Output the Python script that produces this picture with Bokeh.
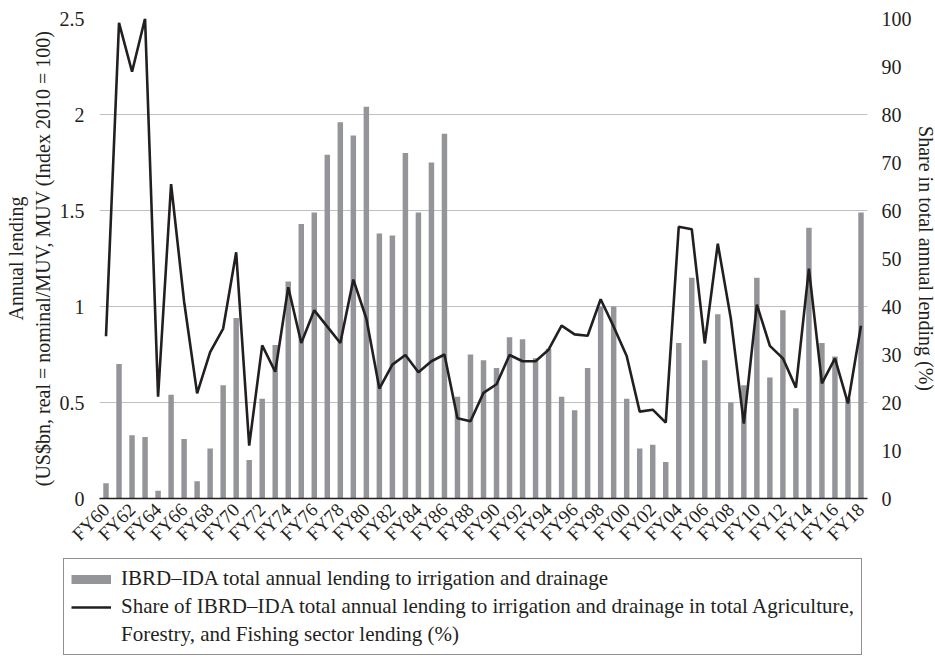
import math
from bokeh.plotting import figure
from bokeh.layouts import column
from bokeh.models import Range1d, LinearAxis, FixedTicker, Legend, LegendItem, ColumnDataSource
from bokeh.embed import file_html
from bokeh.resources import INLINE

years = ["FY60", "FY61", "FY62", "FY63", "FY64", "FY65", "FY66", "FY67", "FY68", "FY69",
         "FY70", "FY71", "FY72", "FY73", "FY74", "FY75", "FY76", "FY77", "FY78", "FY79",
         "FY80", "FY81", "FY82", "FY83", "FY84", "FY85", "FY86", "FY87", "FY88", "FY89",
         "FY90", "FY91", "FY92", "FY93", "FY94", "FY95", "FY96", "FY97", "FY98", "FY99",
         "FY00", "FY01", "FY02", "FY03", "FY04", "FY05", "FY06", "FY07", "FY08", "FY09",
         "FY10", "FY11", "FY12", "FY13", "FY14", "FY15", "FY16", "FY17", "FY18"]

lending = [0.08, 0.70, 0.33, 0.32, 0.04, 0.54, 0.31, 0.09, 0.26, 0.59,
           0.94, 0.20, 0.52, 0.80, 1.13, 1.43, 1.49, 1.79, 1.96, 1.89,
           2.04, 1.38, 1.37, 1.80, 1.49, 1.75, 1.90, 0.53, 0.75, 0.72,
           0.68, 0.84, 0.83, 0.73, 0.78, 0.53, 0.46, 0.68, 1.00, 1.00,
           0.52, 0.26, 0.28, 0.19, 0.81, 1.15, 0.72, 0.96, 0.50, 0.59,
           1.15, 0.63, 0.98, 0.47, 1.41, 0.81, 0.74, 0.52, 1.49]

share = [33.8, 99.1, 88.9, 100.0, 21.2, 65.5, 41.0, 21.9, 30.5, 35.4,
         51.3, 11.0, 31.9, 26.4, 44.0, 32.4, 39.2, 35.8, 32.4, 45.6,
         37.5, 22.9, 27.9, 29.9, 26.3, 28.6, 30.0, 16.7, 16.1, 22.0,
         23.8, 29.9, 28.6, 28.6, 31.0, 36.0, 34.2, 33.9, 41.5, 35.8,
         29.7, 18.1, 18.5, 15.8, 56.6, 56.1, 32.3, 53.1, 37.5, 15.6,
         40.4, 31.8, 29.2, 23.1, 47.9, 24.0, 29.2, 19.8, 36.0]

left_ticks = [0, 0.5, 1, 1.5, 2, 2.5]
right_ticks = [0, 10, 20, 30, 40, 50, 60, 70, 80, 90, 100]

legend_bar = "IBRD–IDA total annual lending to irrigation and drainage"
legend_line_1 = "Share of IBRD–IDA total annual lending to irrigation and drainage in total Agriculture,"
legend_line_2 = "Forestry, and Fishing sector lending (%)"

FONT = "Liberation Serif"
TXT = "#231f20"
BAR = "#939598"

xs = list(range(len(years)))
src = ColumnDataSource(dict(x=xs, year=years, lending=lending, share=share))

p = figure(frame_width=768, frame_height=480, output_backend="svg", toolbar_location=None,
           x_range=Range1d(-0.5, len(years) - 0.5), y_range=Range1d(0, 2.5),
           min_border_left=99, min_border_right=68, min_border_top=18, min_border_bottom=57)
p.frame_align = False
p.outline_line_color = None
p.background_fill_color = "white"
p.border_fill_color = "white"

p.extra_y_ranges = {"share": Range1d(0, 100)}

bars = p.vbar(x="x", top="lending", width=0.42, source=src, fill_color=BAR, line_color=None)
line = p.line(x="x", y="share", source=src, y_range_name="share", line_color=TXT, line_width=2.6)

# x axis
xa = p.xaxis[0]
xa.ticker = FixedTicker(ticks=xs[::2])
xa.major_label_overrides = {i: years[i] for i in xs[::2]}
xa.major_label_orientation = math.pi / 4
xa.major_tick_line_color = None
xa.minor_tick_line_color = None
xa.axis_line_color = TXT
xa.axis_line_width = 1.5
xa.major_label_text_font = FONT
xa.major_label_text_font_size = "19px"
xa.major_label_text_color = TXT
xa.major_label_standoff = 2

# left axis
ya = p.yaxis[0]
ya.ticker = FixedTicker(ticks=left_ticks)
ya.axis_line_color = None
ya.major_tick_line_color = None
ya.minor_tick_line_color = None
ya.major_label_text_font = FONT
ya.major_label_text_font_size = "20px"
ya.major_label_text_color = TXT
ya.major_label_standoff = 9
ya.axis_label = "Annual lending\n(US$bn, real = nominal/MUV, MUV (Index 2010 = 100)"
ya.axis_label_text_font = FONT
ya.axis_label_text_font_style = "normal"
ya.axis_label_text_font_size = "20px"
ya.axis_label_text_color = TXT
ya.axis_label_standoff = 3

# right axis
ra = LinearAxis(y_range_name="share", ticker=FixedTicker(ticks=right_ticks))
ra.axis_line_color = None
ra.major_tick_line_color = None
ra.minor_tick_line_color = None
ra.major_label_text_font = FONT
ra.major_label_text_font_size = "20px"
ra.major_label_text_color = TXT
ra.major_label_standoff = 8
ra.axis_label = "Share in total annual lending (%)"
ra.axis_label_text_font = FONT
ra.axis_label_text_font_style = "normal"
ra.axis_label_text_font_size = "20px"
ra.axis_label_text_color = TXT
ra.axis_label_standoff = 0
p.add_layout(ra, "right")

p.xgrid.grid_line_color = None
p.ygrid.ticker = FixedTicker(ticks=left_ticks)
p.ygrid.grid_line_color = "#c0c0c0"
p.ygrid.grid_line_width = 1.2

# legend panel (separate blank figure below the chart)
p2 = figure(width=935, height=101, output_backend="svg", toolbar_location=None,
            x_range=Range1d(0, 1), y_range=Range1d(0, 1),
            x_axis_location=None, y_axis_location=None,
            min_border_left=0, min_border_right=0, min_border_top=0, min_border_bottom=0)
p2.frame_align = False
p2.outline_line_color = None
p2.grid.grid_line_color = None
nan = float("nan")
lg_bar = p2.line(x=[nan], y=[nan], line_color=BAR, line_width=9)
lg_line = p2.line(x=[nan], y=[nan], line_color=TXT, line_width=2.6)
lg_blank = p2.line(x=[nan], y=[nan], line_color=TXT, line_alpha=0)

legend = Legend(items=[
    LegendItem(label=legend_bar, renderers=[lg_bar]),
    LegendItem(label=legend_line_1, renderers=[lg_line]),
    LegendItem(label=legend_line_2, renderers=[lg_blank]),
], location=(63, 1), orientation="vertical")
legend.border_line_color = TXT
legend.border_line_width = 1
legend.label_text_font = FONT
legend.label_text_font_size = "21px"
legend.label_text_color = TXT
legend.glyph_width = 40
legend.glyph_height = 22
legend.label_height = 22
legend.spacing = 3
legend.padding = 7
legend.margin = 0
legend.label_standoff = 10
legend.background_fill_color = "white"
p2.add_layout(legend, "center")

layout = column(p, p2, spacing=0)
open("out.html", "w").write(file_html(layout, INLINE))
